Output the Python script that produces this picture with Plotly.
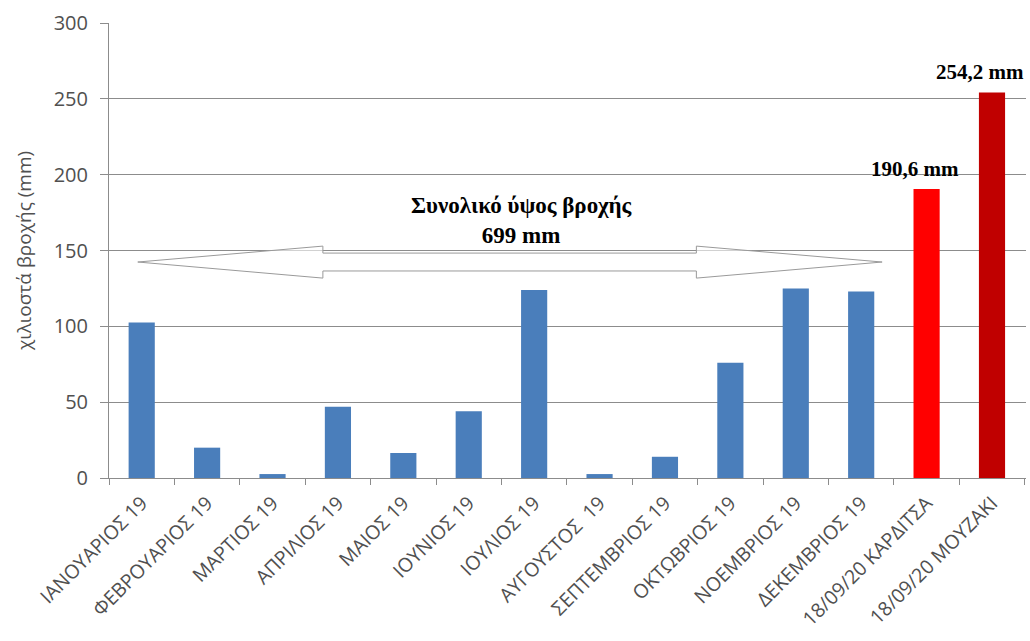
import plotly.graph_objects as go

categories = ["ΙΑΝΟΥΑΡΙΟΣ 19", "ΦΕΒΡΟΥΑΡΙΟΣ 19", "ΜΑΡΤΙΟΣ 19", "ΑΠΡΙΛΙΟΣ 19",
              "ΜΑΙΟΣ 19", "ΙΟΥΝΙΟΣ 19", "ΙΟΥΛΙΟΣ 19", "ΑΥΓΟΥΣΤΟΣ  19",
              "ΣΕΠΤΕΜΒΡΙΟΣ 19", "ΟΚΤΩΒΡΙΟΣ 19", "ΝΟΕΜΒΡΙΟΣ 19", "ΔΕΚΕΜΒΡΙΟΣ 19",
              "18/09/20 ΚΑΡΔΙΤΣΑ", "18/09/20 ΜΟΥΖΑΚΙ"]
values = [102.6, 20, 2.6, 47, 16.5, 44, 124, 2.6, 14, 76, 125, 123, 190.6, 254.2]
bar_colors = ["#4A7EBB"] * 12 + ["#FF0000", "#C00000"]
value_labels = {12: "190,6 mm", 13: "254,2 mm"}
total_label = "Συνολικό ύψος βροχής<br>699 mm"
y_ticks = [0, 50, 100, 150, 200, 250, 300]

fig = go.Figure()
fig.add_trace(go.Bar(x=categories, y=values, marker=dict(color=bar_colors, line=dict(width=0)),
                     showlegend=False))

serif = "Liberation Serif"
for i, txt in value_labels.items():
    fig.add_annotation(x=categories[i], y=values[i], text="<b>%s</b>" % txt,
                       showarrow=False, yanchor="bottom", xanchor="center",
                       xshift=-12, yshift=6,
                       font=dict(family=serif, size=21, color="black"))

fig.add_annotation(x=5.8, y=169.5, xref="x", yref="y", text="<b>%s</b>" % total_label,
                   showarrow=False, font=dict(family=serif, size=23, color="black"))

# double-headed block arrow
arrow_path = ("M -0.06,142.4 L 2.77,152.9 L 2.77,148.3 L 8.48,148.3 L 8.48,152.9 "
              "L 11.32,142.4 L 8.48,131.8 L 8.48,136.5 L 2.77,136.5 L 2.77,131.8 Z")
fig.add_shape(type="path", path=arrow_path, xref="x", yref="y",
              fillcolor="rgba(255,255,255,0.6)", line=dict(color="#9a9a9a", width=1))

fig.update_layout(
    width=1030, height=641,
    margin=dict(l=109, r=4, t=23, b=163),
    plot_bgcolor="white", paper_bgcolor="white",
    bargap=0.6,
    font=dict(family="Open Sans", color="#595959"),
)
fig.update_xaxes(type="category", tickangle=-45, tickson="boundaries", ticks="outside",
                 ticklen=6, tickcolor="#8c8c8c", showline=True, linecolor="#8c8c8c",
                 showgrid=False, automargin=False, ticklabelstandoff=5,
                 tickfont=dict(size=19.5, color="#505050"))
fig.update_yaxes(range=[0, 300], tickvals=y_ticks, ticks="outside", ticklen=8,
                 tickcolor="#8c8c8c", showline=True, linecolor="#8c8c8c",
                 gridcolor="#8c8c8c", gridwidth=1, zeroline=False, automargin=False,
                 ticklabelstandoff=8,
                 tickfont=dict(size=20, color="#505050"),
                 title=dict(text="χιλιοστά βροχής (mm)", standoff=17,
                            font=dict(family="Open Sans", size=19, color="#505050")))

fig.write_html("out.html")
